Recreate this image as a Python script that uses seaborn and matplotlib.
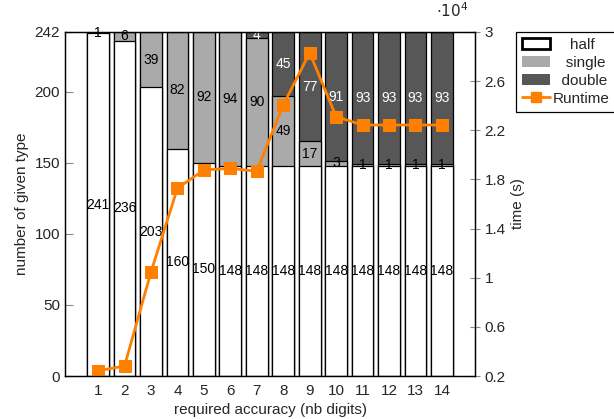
import matplotlib
matplotlib.use("Agg")
import matplotlib.pyplot as plt
import seaborn as sns
import pandas as pd
from matplotlib.patches import Patch
from matplotlib.lines import Line2D
from matplotlib.ticker import FuncFormatter

# required accuracy (number of digits)
digits = ["1", "2", "3", "4", "5", "6", "7", "8", "9", "10", "11", "12", "13", "14"]
# number of variables of each precision
half_counts = [241, 236, 203, 160, 150, 148, 148, 148, 148, 148, 148, 148, 148, 148]
single_counts = [1, 6, 39, 82, 92, 94, 90, 49, 17, 3, 1, 1, 1, 1]
double_counts = [0, 0, 0, 0, 0, 0, 4, 45, 77, 91, 93, 93, 93, 93]
# runtime in seconds
runtime = [2430, 2810, 10460, 17280, 18770, 18900, 18660, 24060, 28310, 23110,
           22430, 22430, 22430, 22430]

sns.set_style("white")
plt.rcParams["font.family"] = ["Liberation Sans", "DejaVu Sans"]
plt.rcParams["font.size"] = 11

df = pd.DataFrame({
    "digits": digits,
    "half": half_counts,
    "single": single_counts,
    "double": double_counts,
    "runtime": runtime,
})
df["hs"] = df["half"] + df["single"]
df["total"] = df["hs"] + df["double"]

c_single = "#aaaaaa"
c_double = "#575757"
c_run = "#ff8000"

fig = plt.figure(figsize=(6.14, 4.19), dpi=100)
ax = fig.add_axes([65 / 614, 43 / 419, 410 / 614, 344 / 419])

bw = 0.82
common = dict(x="digits", order=digits, width=bw, edgecolor="black",
              linewidth=0.9, ax=ax, errorbar=None)
sns.barplot(data=df, y="total", color=c_double, saturation=1, **common)
sns.barplot(data=df, y="hs", color=c_single, saturation=1, **common)
sns.barplot(data=df, y="half", color="white", saturation=1, **common)

# segment value labels
for i in range(len(digits)):
    h, s, d = half_counts[i], single_counts[i], double_counts[i]
    ax.text(i, h / 2, str(h), ha="center", va="center", fontsize=10, color="black")
    if s > 0:
        ax.text(i, h + s / 2, str(s), ha="center", va="center", fontsize=10, color="black")
    if d > 0:
        ax.text(i, h + s + d / 2, str(d), ha="center", va="center", fontsize=10, color="white")

ax.set_xlim(-1.25, 14.25)
ax.set_ylim(0, 242)
ax.set_yticks([0, 50, 100, 150, 200, 242])
ax.set_xlabel("required accuracy (nb digits)", labelpad=3)
ax.set_ylabel("number of given type")
ax.tick_params(axis="x", length=0, pad=6)
ax.tick_params(axis="y", direction="in", length=6, width=0.8, color="#888888",
               left=True)
for sp in ax.spines.values():
    sp.set_color("black")
    sp.set_linewidth(0.9)

ax2 = ax.twinx()
sns.lineplot(x=list(range(len(digits))), y=runtime, ax=ax2, color=c_run,
             linewidth=2, marker="s", markersize=8, markeredgecolor=c_run)
ax2.set_ylim(2000, 30000)
ax2.set_yticks([2000, 6000, 10000, 14000, 18000, 22000, 26000, 30000])
ax2.yaxis.set_major_formatter(FuncFormatter(lambda v, p: f"{v / 1e4:g}"))
ax2.text(0.985, 1.035, r"$\cdot 10^{4}$", transform=ax2.transAxes,
         ha="right", va="bottom", fontsize=11)
ax2.set_ylabel("time (s)")
ax2.tick_params(axis="y", direction="inout", length=7, width=0.8,
                color="#888888", right=True)
ax2.set_xlim(-1.25, 14.25)
for sp in ax2.spines.values():
    sp.set_color("black")
    sp.set_linewidth(0.9)

handles = [
    Patch(facecolor="white", edgecolor="black", linewidth=2),
    Patch(facecolor=c_single, edgecolor="none"),
    Patch(facecolor=c_double, edgecolor="none"),
    Line2D([0], [0], color=c_run, linewidth=2, marker="s", markersize=7),
]
labels = ["    half", "   single", "  double", "Runtime"]
leg = fig.legend(handles, labels, loc="upper left",
                 bbox_to_anchor=(516 / 614, 1 - 32 / 419), borderaxespad=0,
                 fancybox=False, framealpha=1, edgecolor="black",
                 handlelength=1.8, handletextpad=0.2, labelspacing=0.25,
                 borderpad=0.4, fontsize=11)
leg.get_frame().set_linewidth(0.9)

fig.savefig("out.png", dpi=100)
